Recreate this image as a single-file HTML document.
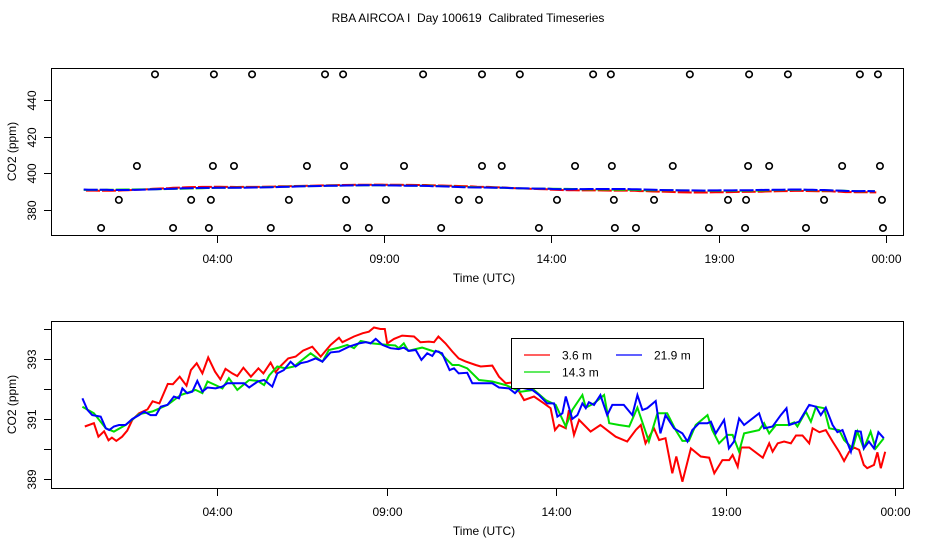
<!DOCTYPE html>
<html><head><meta charset="utf-8"><style>
body{margin:0;background:#fff;}
svg{display:block;font-family:"Liberation Sans",sans-serif;}
</style></head><body>
<svg id="c" width="936" height="540" viewBox="0 0 936 540"></svg>
<script>
const xTickLabels=["04:00","09:00","14:00","19:00","00:00"];
const xTickHours=[4,9,14,19,24];
const topYTicks=[380,400,420,440];
const botYTicks=[389,390,391,392,393,394];
const botYLabels=[389,391,393];
const seriesNames=["3.6 m","14.3 m","21.9 m"];
const circleTimes=[2.16,3.92,5.06,7.24,7.78,10.17,11.93,13.06,15.25,15.78,18.14,19.91,21.07,23.22,23.76,
1.62,3.89,4.52,6.7,7.81,9.6,11.93,12.52,14.71,15.81,17.63,19.88,20.51,22.69,23.82,
1.08,3.24,3.83,6.16,7.87,9.06,11.24,11.84,14.17,15.87,17.07,19.28,19.82,22.15,23.88,
0.55,2.7,3.77,5.62,7.9,8.55,10.71,13.63,15.9,16.53,18.71,19.79,21.61,23.91];
const circleValues=[454,454,454,454,454,454,454,454,454,454,454,454,454,454,454,
404,404,404,404,404,404,404,404,404,404,404,404,404,404,404,
385.5,385.5,385.5,385.5,385.5,385.5,385.5,385.5,385.5,385.5,385.5,385.5,385.5,385.5,385.5,
370.2,370.2,370.2,370.2,370.2,370.2,370.2,370.2,370.2,370.2,370.2,370.2,370.2,370.2];
const redT=[0.1,0.37,0.5,0.67,0.8,0.9,1.03,1.2,1.35,1.5,1.7,1.95,2.1,2.3,2.55,2.7,2.9,3.1,3.23,3.4,3.57,3.74,3.94,4.1,4.25,4.45,4.6,4.78,5.0,5.22,5.37,5.58,5.73,5.86,6.1,6.32,6.54,6.81,7.06,7.35,7.6,7.7,8.04,8.3,8.48,8.63,8.82,8.95,9.02,9.22,9.46,9.81,10.0,10.25,10.4,10.53,10.74,10.94,11.13,11.33,11.63,11.78,12.12,12.32,12.52,12.71,12.81,13.06,13.35,13.65,13.84,13.97,14.09,14.29,14.38,14.53,14.68,15.02,15.31,15.56,15.76,16.1,16.35,16.5,16.64,16.89,17.04,17.23,17.43,17.55,17.73,17.98,18.27,18.52,18.67,18.91,19.11,19.21,19.36,19.46,19.7,20.1,20.29,20.39,20.54,20.73,20.93,21.08,21.27,21.47,21.57,21.77,21.96,22.16,22.35,22.5,22.65,22.79,22.94,23.08,23.18,23.38,23.48,23.58,23.71];
const redV=[390.76,390.87,390.42,390.6,390.3,390.39,390.28,390.42,390.62,390.98,391.2,391.33,391.6,391.53,392.18,392.17,392.42,392.12,392.64,392.87,392.53,393.06,392.59,392.33,392.68,392.53,392.44,392.72,392.42,392.7,392.53,392.89,392.57,392.76,393.03,393.09,393.29,393.42,393.09,393.48,393.72,393.57,393.76,393.87,393.92,394.06,394.01,394.01,393.53,393.68,393.79,393.76,393.57,393.59,393.57,393.76,393.53,393.26,393.03,392.93,392.81,392.76,392.79,392.42,392.2,392.23,392.12,391.64,391.76,391.53,391.37,390.64,390.81,390.7,391.31,390.48,390.98,390.59,390.81,390.59,390.42,390.26,390.64,390.81,390.2,390.7,390.31,390.37,389.2,389.76,388.92,390.03,389.76,389.72,389.2,389.64,389.64,389.81,389.42,390.06,390.06,389.72,390.2,389.92,390.2,390.26,390.2,390.46,390.46,390.2,390.7,390.57,390.64,390.26,389.92,389.61,389.92,390.06,389.98,389.48,389.37,389.48,389.9,389.37,389.92];
const greenT=[0.03,0.37,0.72,0.96,1.3,1.7,2.09,2.54,2.93,3.37,3.57,3.72,3.96,4.16,4.35,4.6,4.95,5.2,5.39,5.54,5.78,6.02,6.27,6.47,6.76,7.11,7.3,7.6,7.84,8.04,8.24,8.58,9.02,9.26,9.36,9.51,9.64,10.05,10.4,10.54,10.79,10.94,11.13,11.38,11.73,12.12,12.52,12.96,13.35,13.7,13.99,14.29,14.48,14.78,14.88,15.12,15.42,15.57,15.86,16.16,16.4,16.74,16.99,17.28,17.53,17.73,17.92,18.12,18.47,18.61,18.81,19.06,19.21,19.4,19.55,19.99,20.14,20.29,20.49,20.83,21.03,21.12,21.37,21.52,21.67,21.91,22.06,22.35,22.5,22.75,22.89,23.08,23.28,23.43,23.67];
const greenV=[391.42,391.2,390.7,390.59,390.81,391.17,391.26,391.48,391.81,391.98,391.87,392.26,392.14,392.03,392.37,391.98,392.31,392.28,392.14,392.46,392.76,392.7,392.76,392.94,393.2,392.92,393.31,393.39,393.48,393.37,393.61,393.53,393.48,393.46,393.37,393.53,393.28,393.39,393.26,393.26,392.98,392.81,392.81,392.7,392.31,392.26,392.14,391.92,391.98,391.64,391.48,390.76,391.31,391.81,391.39,391.53,391.81,390.87,390.81,390.76,391.39,390.26,391.2,391.2,390.64,390.28,390.28,390.81,391.14,390.64,390.2,390.48,390.48,389.92,390.53,390.64,390.87,390.53,390.81,390.81,390.9,390.76,391.26,390.92,391.42,391.37,390.7,390.64,390.31,390.03,390.59,390.03,390.59,390.03,390.37];
const blueT=[0.03,0.18,0.32,0.57,0.72,0.82,0.96,1.11,1.3,1.5,1.7,1.85,2.04,2.2,2.34,2.54,2.73,2.88,2.98,3.12,3.27,3.42,3.57,3.72,3.96,4.16,4.3,4.45,4.65,4.8,4.95,5.2,5.39,5.63,5.78,5.97,6.17,6.32,6.47,6.67,6.91,7.11,7.35,7.6,7.89,8.19,8.39,8.53,8.68,8.88,9.12,9.36,9.51,9.66,9.86,10.03,10.2,10.35,10.45,10.64,10.86,10.99,11.13,11.38,11.53,12.12,12.32,12.61,12.79,12.96,13.3,13.5,13.74,13.94,14.04,14.19,14.29,14.48,14.63,14.78,14.88,14.97,15.12,15.31,15.51,15.66,16.0,16.25,16.4,16.55,16.69,16.94,17.08,17.23,17.48,17.73,17.88,18.02,18.22,18.47,18.57,18.71,18.96,19.1,19.25,19.4,19.55,19.99,20.14,20.39,20.63,20.8,20.88,21.17,21.47,21.67,21.81,21.96,22.16,22.3,22.45,22.7,22.84,22.99,23.08,23.23,23.38,23.51,23.67];
const blueV=[391.7,391.31,391.14,391.09,390.7,390.64,390.76,390.81,390.81,391.01,391.14,391.26,391.14,391.14,391.42,391.48,391.76,391.7,392.03,391.87,391.92,392.28,391.92,392.06,392.03,392.09,392.2,392.2,392.2,392.2,392.06,392.26,392.31,392.09,392.53,392.64,392.92,392.76,392.87,392.92,393.03,392.92,393.23,393.26,393.42,393.53,393.57,393.53,393.68,393.48,393.37,393.34,393.39,393.28,393.31,392.98,393.2,393.11,393.28,393.2,392.64,392.7,392.53,392.55,392.2,392.2,392.06,392.03,391.87,392.06,391.98,391.81,391.53,391.53,391.09,391.2,391.76,391.01,391.14,391.53,391.37,391.57,391.48,391.81,391.14,391.48,391.48,391.14,391.81,391.31,391.37,391.61,390.53,391.14,390.7,390.53,390.26,390.64,390.87,390.87,390.92,390.53,390.98,390.03,390.26,391.03,390.81,391.2,390.7,390.76,391.14,391.37,390.81,390.92,391.48,391.42,391.14,391.39,390.81,390.57,390.64,389.92,390.61,390.59,390.03,390.26,390.03,390.57,390.37];
const colors=["#ff0000","#00dd00","#0000ff"];

const svgEl=document.getElementById('c');
const NS="http://www.w3.org/2000/svg";
function mk(tag,attrs,parent){const e=document.createElementNS(NS,tag);for(const k in attrs)e.setAttribute(k,attrs[k]);(parent||svgEl).appendChild(e);return e;}

const tt=mk('text',{x:468,y:22,"text-anchor":"middle","font-size":12,style:"white-space:pre"});
tt.textContent="RBA AIRCOA I  Day 100619  Calibrated Timeseries";



function panel(cfg){
  const g=mk('g',{});
  
  
  const X=h=>cfg.x0+h*cfg.xs;
  const Y=v=>cfg.yb-(v-cfg.vb)*cfg.ys;
  const box=mk('rect',{x:51.5,y:cfg.y0+0.5,width:852,height:cfg.y1-cfg.y0,fill:"none",stroke:"#000"},g);
  
  
  xTickHours.forEach((h,i)=>{
    const x=Math.round(X(h))+0.5;
    const l=mk('line',{x1:x,x2:x,y1:cfg.y1+0.5,y2:cfg.y1+8,stroke:"#000"},g);
    
    
    const t=mk('text',{x:x,y:cfg.y1+28,"text-anchor":"middle","font-size":12},g);
    t.textContent=xTickLabels[i];
    
    
  });
  const xl=mk('text',{x:484,y:cfg.y1+47,"text-anchor":"middle","font-size":12},g);
  xl.textContent="Time (UTC)";
  
  
  const my=(cfg.y0+cfg.y1)/2;
  const yl=mk('text',{x:16,y:my,"text-anchor":"middle","font-size":12,transform:"rotate(-90 16 "+my+")"},g);
  yl.textContent="CO2 (ppm)";
  
  
  cfg.yticks.forEach(v=>{
    const y=Math.round(Y(v))+0.5;
    const l=mk('line',{x1:44,x2:51.5,y1:y,y2:y,stroke:"#000"},g);
    
    
    if(cfg.ylabels.indexOf(v)>=0){
      const t=mk('text',{x:36,y:y,"text-anchor":"middle","font-size":12,transform:"rotate(-90 36 "+y+")"},g);
      t.textContent=String(v);
      
      
    }
  });
  const T=[redT,greenT,blueT],V=[redV,greenV,blueV];
  [0,1,2].forEach(s=>{
    let d="";
    T[s].forEach((t,i)=>{
      let v=V[s][i];
      if(cfg.smooth){const a=V[s].slice(Math.max(0,i-4),i+5);v=a.reduce((p,c)=>p+c,0)/a.length;}
      d+=(i?"L":"M")+X(t).toFixed(1)+","+Y(v).toFixed(1);
    });
    const p=mk('path',{d:d,fill:"none",stroke:colors[s],"stroke-width":2,"stroke-dasharray":cfg.smooth?"14 2":"none"},g);
    
    
  });
  return {g:g,X:X,Y:Y};
}

const topPanel=panel({name:"top-panel",y0:68,y1:235,x0:82.7,xs:33.47,yb:210,vb:380,ys:1.833,yticks:topYTicks,ylabels:topYTicks,smooth:true});
circleTimes.forEach((t,i)=>{
  const c=mk('circle',{cx:topPanel.X(t),cy:topPanel.Y(circleValues[i]),r:3.2,fill:"none",stroke:"#000","stroke-width":1.6},topPanel.g);
  
  
});
panel({name:"bottom-panel",y0:321,y1:488,x0:81.4,xs:33.9,yb:419.3,vb:391,ys:30,yticks:botYTicks,ylabels:botYLabels,smooth:false});

const lg=mk('g',{});


mk('rect',{x:511.5,y:338.5,width:192,height:50,fill:"#fff",stroke:"#000"},lg);
[[524,355,0,562],[616,355,2,654],[524,372,1,562]].forEach(e=>{
  const l=mk('line',{x1:e[0],x2:e[0]+26,y1:e[1],y2:e[1],stroke:colors[e[2]],"stroke-width":1.2},lg);
  
  
  const t=mk('text',{x:e[3],y:e[1]+4.5,"font-size":12},lg);
  t.textContent=seriesNames[e[2]];
  
  
});
</script>
</body></html>
